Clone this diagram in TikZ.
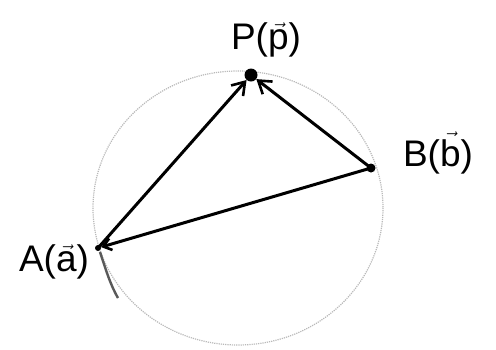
\documentclass[tikz,border=0pt]{standalone}
\usepackage{amsmath}
\usepackage{fontspec}
\setmainfont{Liberation Sans}
\usetikzlibrary{arrows.meta}
\newcommand{\hvec}[1]{\ensuremath{\vec{\text{#1}}}}
\begin{document}
\begin{tikzpicture}[x=1pt,y=-1pt,
  vec/.style={line width=3pt,-{Straight Barb[length=12pt,width=16pt,line width=2.6pt]}},
  seg/.style={line width=3pt},
  circ/.style={draw=gray!55,line width=1.2pt,densely dotted},
  dotpt/.style={circle,fill=black,inner sep=0pt},
  lab/.style={font=\fontsize{37}{40}\selectfont,inner sep=0pt}]
\useasboundingbox (0,0) rectangle (496,349);
\draw[circ] (238,208) ellipse [x radius=145, y radius=137];
\draw[line width=2.4pt,gray!70!black] (100,252) .. controls (106,270) and (110,284) .. (118,298);
\node[dotpt,minimum size=13pt] (P) at (251,75) {};
\node[dotpt,minimum size=9pt] (B) at (371,168) {};
\node[dotpt,minimum size=6pt] (A) at (98,248) {};
\draw[vec] (A.center) -- (P);
\draw[vec] (B.center) -- (P);
\draw[seg,-{Straight Barb[length=8pt,width=12pt,line width=2.6pt]}] (B.center) -- (A);
\node[lab] (Pl) at (266,40) {P(\hvec{p})};
\node[lab] (Bl) at (438,153) {B(\hvec{b})};
\node[lab] (Al) at (54,262) {A(\hvec{a})};
\end{tikzpicture}
\end{document}
